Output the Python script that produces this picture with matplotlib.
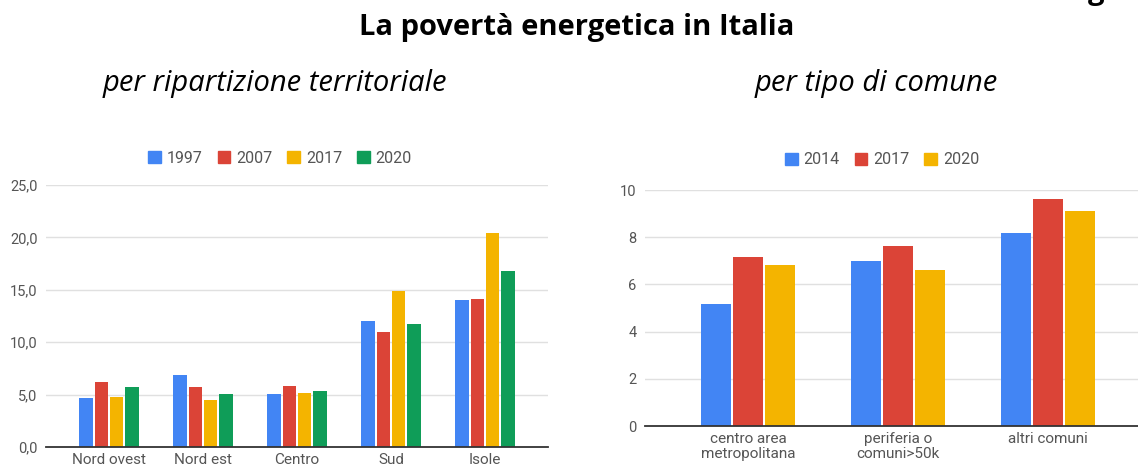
import matplotlib
matplotlib.use("Agg")
import matplotlib.pyplot as plt
import numpy as np
from matplotlib.patches import Patch

# ---- data ----
regions = ["Nord ovest", "Nord est", "Centro", "Sud", "Isole"]
years_left = ["1997", "2007", "2017", "2020"]
v1997 = [4.7, 6.9, 5.1, 12.0, 14.0]
v2007 = [6.2, 5.7, 5.8, 11.0, 14.1]
v2017 = [4.8, 4.5, 5.2, 14.9, 20.4]
v2020 = [5.7, 5.1, 5.3, 11.7, 16.8]
left_ticks = [0, 5, 10, 15, 20, 25]
left_tick_labels = ["0,0", "5,0", "10,0", "15,0", "20,0", "25,0"]

comuni = ["centro area\nmetropolitana", "periferia o\ncomuni>50k", "altri comuni"]
years_right = ["2014", "2017", "2020"]
r2014 = [5.15, 7.0, 8.18]
r2017 = [7.16, 7.64, 9.63]
r2020 = [6.84, 6.6, 9.11]
right_ticks = [0, 2, 4, 6, 8, 10]

title = "La povertà energetica in Italia"
sub_left = "per ripartizione territoriale"
sub_right = "per tipo di comune"

colors4 = ["#4285F4", "#DB4437", "#F4B400", "#0F9D58"]
TXT = "#555555"
GRID = "#e0e0e0"

fig = plt.figure(figsize=(11.38, 4.69), dpi=100)

def style(ax, ticks, labels):
    ax.set_yticks(ticks)
    ax.set_yticklabels(labels, family="Roboto", fontsize=10.5, color=TXT)
    ax.grid(axis="y", color=GRID, linewidth=1)
    ax.set_axisbelow(True)
    for s in ["top", "right", "left"]:
        ax.spines[s].set_visible(False)
    ax.spines["bottom"].set_color("#333333")
    ax.spines["bottom"].set_linewidth(1.3)
    ax.spines["bottom"].set_zorder(5)
    ax.tick_params(axis="both", length=0, pad=4)
    ax.tick_params(axis="y", pad=6)

# ---- left chart ----
axL = fig.add_axes([46/1138, 1-447/469, (548-46)/1138, (447-185)/469])
seriesL = [v1997, v2007, v2017, v2020]
x = np.arange(len(regions))
step = 0.16
w = 0.148
for i, vals in enumerate(seriesL):
    axL.bar(x + (i-1.5)*step, vals, width=w, color=colors4[i], zorder=3)
axL.set_ylim(0, 25)
axL.set_xlim(-0.67, 4.67)
axL.set_xticks(x)
axL.set_xticklabels(regions, family="Roboto", fontsize=11, color=TXT)
style(axL, left_ticks, left_tick_labels)
hL = [Patch(color=c) for c in colors4]
legL = fig.legend(hL, years_left, loc="center", bbox_to_anchor=(280/1138, 1-158/469), ncol=4,
                  frameon=False, handlelength=0.8, handleheight=0.8, handletextpad=0.35,
                  columnspacing=0.95, prop={"family": "Roboto", "size": 11.5})
for t in legL.get_texts():
    t.set_color(TXT)

# ---- right chart ----
axR = fig.add_axes([645/1138, 1-426/469, (1138-645)/1138, (426-190)/469])
seriesR = [r2014, r2017, r2020]
xr = np.arange(len(comuni))
stepr = 0.212
wr = 0.2
for i, vals in enumerate(seriesR):
    axR.bar(xr + (i-1)*stepr, vals, width=wr, color=colors4[i], zorder=3)
axR.set_ylim(0, 10)
axR.set_xlim(-0.687, 2.6)
axR.set_xticks(xr)
axR.set_xticklabels(comuni, family="Roboto", fontsize=11, color=TXT, linespacing=1.1)
style(axR, right_ticks, [str(t) for t in right_ticks])
hR = [Patch(color=c) for c in colors4[:3]]
legR = fig.legend(hR, years_right, loc="center", bbox_to_anchor=(882/1138, 1-160/469), ncol=3,
                  frameon=False, handlelength=0.8, handleheight=0.8, handletextpad=0.35,
                  columnspacing=0.95, prop={"family": "Roboto", "size": 11.5})
for t in legR.get_texts():
    t.set_color(TXT)

# ---- titles ----
fig.text(577/1138, 1-28/469, title, ha="center", va="center", family="Open Sans",
         fontweight="bold", fontsize=21, color="black")
fig.text(275/1138, 1-83/469, sub_left, ha="center", va="center", family="Open Sans",
         style="italic", fontsize=21, color="black")
fig.text(876/1138, 1-83/469, sub_right, ha="center", va="center", family="Open Sans",
         style="italic", fontsize=21, color="black")
# clipped descender of text above the frame (as in the reference)
fig.text(1096/1138, 1+0.5/469, "g", ha="center", va="baseline", family="Open Sans",
         fontweight="bold", fontsize=21, color="black")

fig.savefig("out.png", dpi=100)
